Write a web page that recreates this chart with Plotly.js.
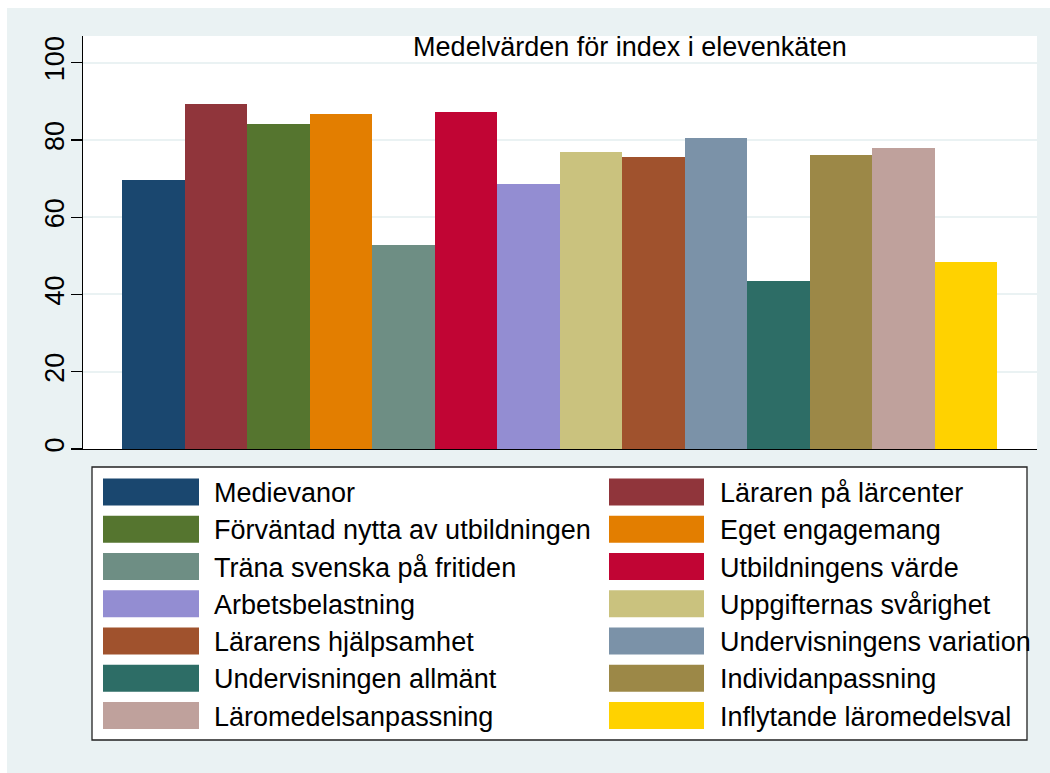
<!DOCTYPE html>
<html>
<head>
<meta charset="utf-8">
<script src="https://cdn.plot.ly/plotly-3.0.1.min.js"></script>
<style>
  html, body { margin: 0; padding: 0; background: #ffffff; }
  #chart { position: absolute; left: 7px; top: 8px; width: 1043px; height: 765px; }
</style>
</head>
<body>
<div id="chart"></div>
<script>
// ---- data ----
const categories = [
  "Medievanor", "Läraren på lärcenter", "Förväntad nytta av utbildningen", "Eget engagemang",
  "Träna svenska på fritiden", "Utbildningens värde", "Arbetsbelastning", "Uppgifternas svårighet",
  "Lärarens hjälpsamhet", "Undervisningens variation", "Undervisningen allmänt", "Individanpassning",
  "Läromedelsanpassning", "Inflytande läromedelsval"
];
const values = [69.5, 89.3, 84.0, 86.7, 52.9, 87.3, 68.6, 76.8, 75.5, 80.5, 43.5, 76.1, 77.9, 48.4];
const colors = [
  "#1A476F", "#90353B", "#55752F", "#E37E00", "#6E8E84", "#C10534", "#938DD2",
  "#CAC27E", "#A0522D", "#7B92A8", "#2D6D66", "#9C8847", "#BFA19C", "#FFD200"
];
const yTicks = [0, 20, 40, 60, 80, 100];
const titleText = "Medelvärden för index i elevenkäten";

// ---- geometry helpers (plot area: x 83..1037, y 36..449 in page px) ----
const W = 1043, H = 765, OX = 7, OY = 8;
const PL = 83, PR = 1037, PT = 36, PB = 449;
const px = X => (X - PL) / (PR - PL);
const py = Y => (PB - Y) / (PB - PT);

const FONT = "Liberation Sans, Arial, Helvetica, sans-serif";

const shapes = [];
const annotations = [];

// legend box
shapes.push({
  type: "rect", xref: "paper", yref: "paper",
  x0: px(92), x1: px(1027), y0: py(740), y1: py(467),
  fillcolor: "#ffffff", line: { color: "#222222", width: 1.3 }, layer: "above"
});

const rowY0 = 492, rowStep = 37.25;
const colSwatch = [[103, 199], [609, 704]];
const colText = [214, 720];
categories.forEach((name, i) => {
  const col = i % 2, row = Math.floor(i / 2);
  const cy = rowY0 + row * rowStep;
  shapes.push({
    type: "rect", xref: "paper", yref: "paper",
    x0: px(colSwatch[col][0]), x1: px(colSwatch[col][1]),
    y0: py(cy + 13.5), y1: py(cy - 13.5),
    fillcolor: colors[i], line: { width: 0 }, layer: "above"
  });
  annotations.push({
    xref: "paper", yref: "paper", x: px(colText[col] - 2), y: py(cy + 1),
    xanchor: "left", yanchor: "middle", showarrow: false,
    text: name, font: { family: FONT, size: 27, color: "#000000" }
  });
});

const trace = {
  type: "bar",
  x: categories,
  y: values,
  width: 1,
  marker: { color: colors, line: { width: 0 } },
  hoverinfo: "x+y",
  showlegend: false
};

const layout = {
  width: W, height: H,
  paper_bgcolor: "#EAF2F3",
  plot_bgcolor: "#ffffff",
  margin: { l: PL - OX, r: W - (PR - OX), t: PT - OY, b: H - (PB - OY), pad: 0 },
  font: { family: FONT, size: 27, color: "#000000" },
  title: {
    text: titleText,
    xref: "container", yref: "container",
    x: (630 - OX) / W, xanchor: "center",
    y: 1 - (47 - OY) / H, yanchor: "middle",
    font: { family: FONT, size: 27, color: "#000000" }
  },
  bargap: 0,
  showlegend: false,
  xaxis: {
    type: "category",
    range: [-1.124, 14.14],
    showticklabels: false,
    ticks: "",
    showgrid: false,
    zeroline: false,
    showline: true, linecolor: "#000000", linewidth: 1.3,
    fixedrange: true
  },
  yaxis: {
    range: [0, 106.9],
    tickvals: yTicks,
    ticktext: yTicks.map(String),
    tickangle: -90,
    ticks: "outside", ticklen: 11, tickwidth: 1.3, tickcolor: "#000000",
    ticklabelstandoff: -4,
    tickfont: { family: FONT, size: 27, color: "#000000" },
    showline: true, linecolor: "#000000", linewidth: 1.3,
    showgrid: true, gridcolor: "#EAF2F3", gridwidth: 2,
    zeroline: false,
    fixedrange: true
  },
  shapes: shapes,
  annotations: annotations
};

Plotly.newPlot("chart", [trace], layout, { displayModeBar: false, staticPlot: true });
</script>
</body>
</html>
